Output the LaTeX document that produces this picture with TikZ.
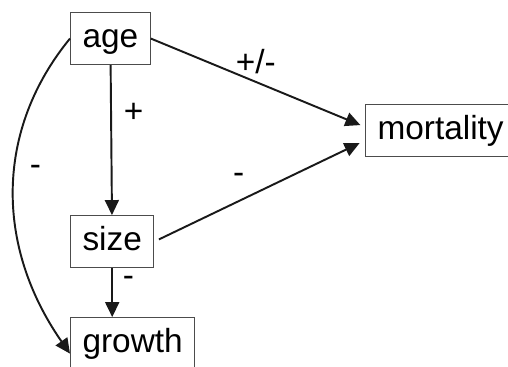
\documentclass[tikz,border=0pt]{standalone}
\usepackage{fontspec}
\setmainfont{Liberation Sans}
\usetikzlibrary{arrows.meta, positioning}
\tikzstyle{box} = [rectangle, draw=black!70, line width=0.6pt, inner xsep=0.24cm, inner ysep=0.2cm, text height=0.5cm, text depth=0.14cm, font=\fontsize{19}{22}\selectfont]
\tikzstyle{arrow} = [line width=1.1pt, draw=black!90, -{Triangle[length=3mm, width=2.8mm]}]
\tikzstyle{sign} = [font=\fontsize{19}{22}\selectfont, inner sep=1pt]

\begin{document}
\begin{tikzpicture}
\clip (0,0) rectangle (10.16,-7.34);

\node (age) [box, anchor=north west] at (1.4,-0.24) {age};
\node (size) [box, below=3cm of age.south west, anchor=north west] {size};
\node (growth) [box, below=0.98cm of size.south west, anchor=north west] {growth};
\node (mortality) [box, anchor=west] at (7.3,-2.61) {mortality};

\draw [arrow] (age) -- (size) node[sign, pos=0.32, right=2mm] {+};
\draw [arrow] (size.south) -- (size.south |- growth.north) node[sign, pos=0.27, right=1.6mm] {-};
\draw [arrow, shorten >=0.1cm] (age.east) -- ([yshift=0.07cm]mortality.west) node[sign, pos=0.49, above=1mm] {+/-};
\draw [arrow, shorten <=0.1cm, shorten >=0.12cm] (size.east) -- ([yshift=-0.2cm]mortality.west) node[sign, pos=0.4, above=3mm] {-};
\draw [arrow] (age.west) .. controls (-0.1,-2.6) and (-0.1,-4.92) .. ([yshift=-0.2cm]growth.west) node[sign, pos=0.44, right=2.5mm] {-};

\end{tikzpicture}
\end{document}
